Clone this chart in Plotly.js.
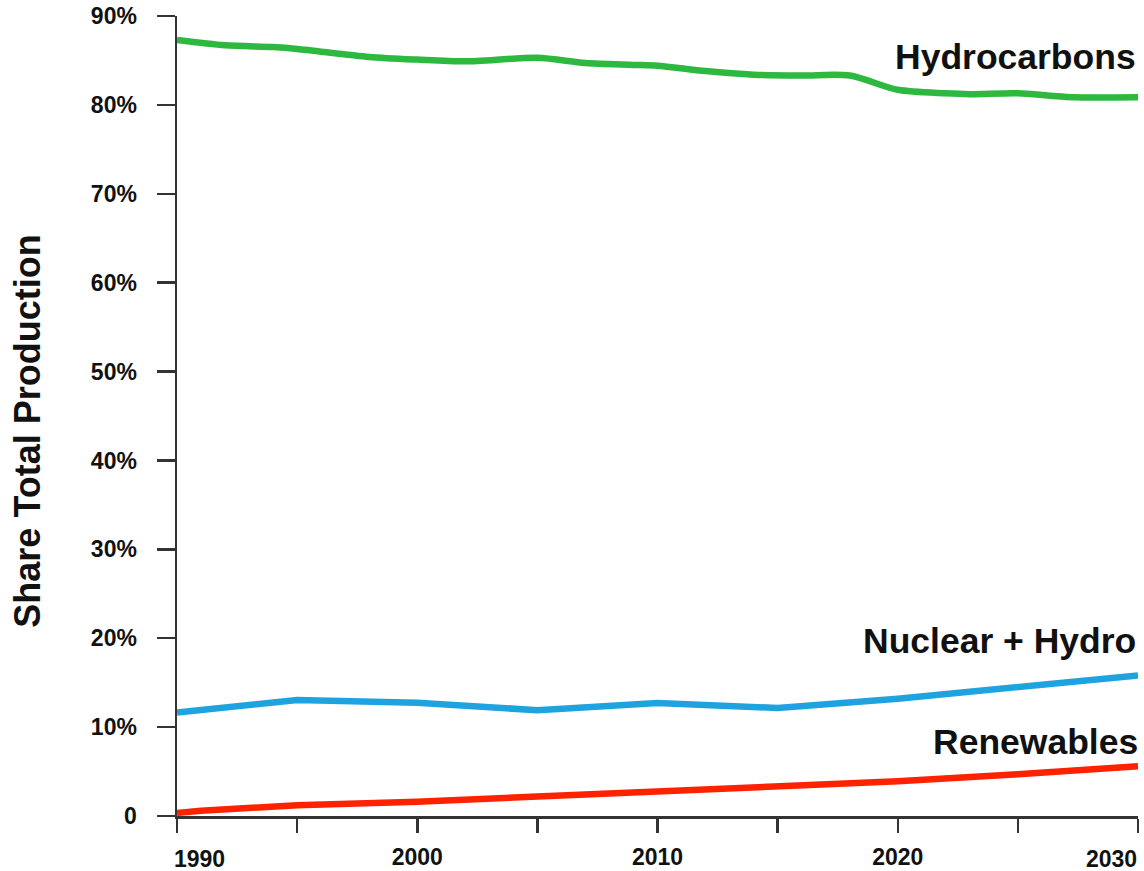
<!DOCTYPE html>
<html>
<head>
<meta charset="utf-8">
<script src="https://cdn.plot.ly/plotly-3.0.1.min.js"></script>
<style>html,body{margin:0;padding:0;background:#fff;}#chart{width:1144px;height:871px;}</style>
</head>
<body>
<div id="chart"></div>
<script>
// Hydrocarbons share (%)
const hydroYears  = [1990, 1992, 1994, 1995, 1998, 2000, 2002, 2005, 2007, 2009, 2010, 2012, 2014, 2016, 2018, 2020, 2022, 2023, 2025, 2027, 2030];
const hydroValues = [87.3, 86.7, 86.5, 86.3, 85.4, 85.1, 84.9, 85.3, 84.7, 84.5, 84.4, 83.8, 83.4, 83.3, 83.3, 81.7, 81.3, 81.2, 81.3, 80.9, 80.85];

// Nuclear + Hydro share (%)
const nucYears  = [1990, 1995, 2000, 2005, 2010, 2015, 2020, 2025, 2030];
const nucValues = [11.65, 13.05, 12.75, 11.9, 12.7, 12.15, 13.2, 14.5, 15.8];

// Renewables share (%)
const renYears  = [1990, 1991, 1995, 2000, 2005, 2010, 2015, 2020, 2025, 2030];
const renValues = [0.35, 0.6, 1.2, 1.6, 2.2, 2.8, 3.3, 3.9, 4.7, 5.6];

const seriesNames = ["Hydrocarbons", "Nuclear + Hydro", "Renewables"];
const yAxisTitle = "Share Total Production";

const yTickVals = [0, 10, 20, 30, 40, 50, 60, 70, 80, 90];
const yTickText = ["0", "10%", "20%", "30%", "40%", "50%", "60%", "70%", "80%", "90%"];
const xTickVals = [1990, 1995, 2000, 2005, 2010, 2015, 2020, 2025, 2030];
const xTickText = ["", "", "2000", "", "2010", "", "2020", "", ""];
const xEdgeLabels = ["1990", "2030"];

const FONT = "Liberation Sans, Arial, Helvetica, sans-serif";

const traces = [
  {x: hydroYears, y: hydroValues, name: seriesNames[0], mode: "lines",
   line: {color: "#2DB83F", width: 6.5, shape: "spline", smoothing: 0.8}},
  {x: nucYears, y: nucValues, name: seriesNames[1], mode: "lines",
   line: {color: "#1FA3DF", width: 6.5}},
  {x: renYears, y: renValues, name: seriesNames[2], mode: "lines",
   line: {color: "#FF2200", width: 6.5}}
];

const labelFont = {family: FONT, size: 35.5, color: "#111", weight: "bold"};
const tickFont = {family: FONT, size: 23, color: "#111", weight: "bold"};

const layout = {
  width: 1144, height: 871,
  margin: {l: 177, r: 6, t: 16, b: 55, pad: 0},
  paper_bgcolor: "#fff", plot_bgcolor: "#fff",
  showlegend: false,
  xaxis: {
    range: [1990, 2030], showgrid: false, zeroline: false,
    showline: true, linecolor: "#333", linewidth: 2.5,
    ticks: "outside", ticklen: 14, tickwidth: 2.5, tickcolor: "#333",
    tickvals: xTickVals, ticktext: xTickText,
    tickfont: tickFont, ticklabelstandoff: 5,
    automargin: false
  },
  yaxis: {
    range: [0, 90], showgrid: false, zeroline: false,
    showline: true, linecolor: "#333", linewidth: 2.5,
    ticks: "outside", ticklen: 18, tickwidth: 2.5, tickcolor: "#333",
    tickvals: yTickVals, ticktext: yTickText,
    tickfont: tickFont, ticklabelstandoff: 15,
    automargin: false
  },
  annotations: [
    {xref: "paper", yref: "paper", x: -0.1556, y: 0.481, textangle: -90,
     text: yAxisTitle, showarrow: false, xanchor: "center", yanchor: "middle",
     font: {family: FONT, size: 36, color: "#111", weight: "bold"}},
    {xref: "x", yref: "paper", x: xTickVals[0], y: 0, yshift: -28, xshift: -5,
     text: xEdgeLabels[0], showarrow: false, xanchor: "left", yanchor: "top", font: tickFont},
    {xref: "x", yref: "paper", x: xTickVals[xTickVals.length - 1], y: 0, yshift: -28, xshift: 1,
     text: xEdgeLabels[1], showarrow: false, xanchor: "right", yanchor: "top", font: tickFont},
    {xref: "paper", yref: "y", x: 1, y: hydroValues[hydroValues.length - 1], yshift: 40, xshift: 0,
     text: seriesNames[0], showarrow: false, xanchor: "right", yanchor: "middle", font: labelFont},
    {xref: "paper", yref: "y", x: 1, y: nucValues[nucValues.length - 1], yshift: 35, xshift: 0,
     text: seriesNames[1], showarrow: false, xanchor: "right", yanchor: "middle", font: labelFont},
    {xref: "paper", yref: "y", x: 1, y: renValues[renValues.length - 1], yshift: 24, xshift: 2,
     text: seriesNames[2], showarrow: false, xanchor: "right", yanchor: "middle", font: labelFont}
  ]
};

Plotly.newPlot("chart", traces, layout, {displayModeBar: false, staticPlot: true});
</script>
</body>
</html>
